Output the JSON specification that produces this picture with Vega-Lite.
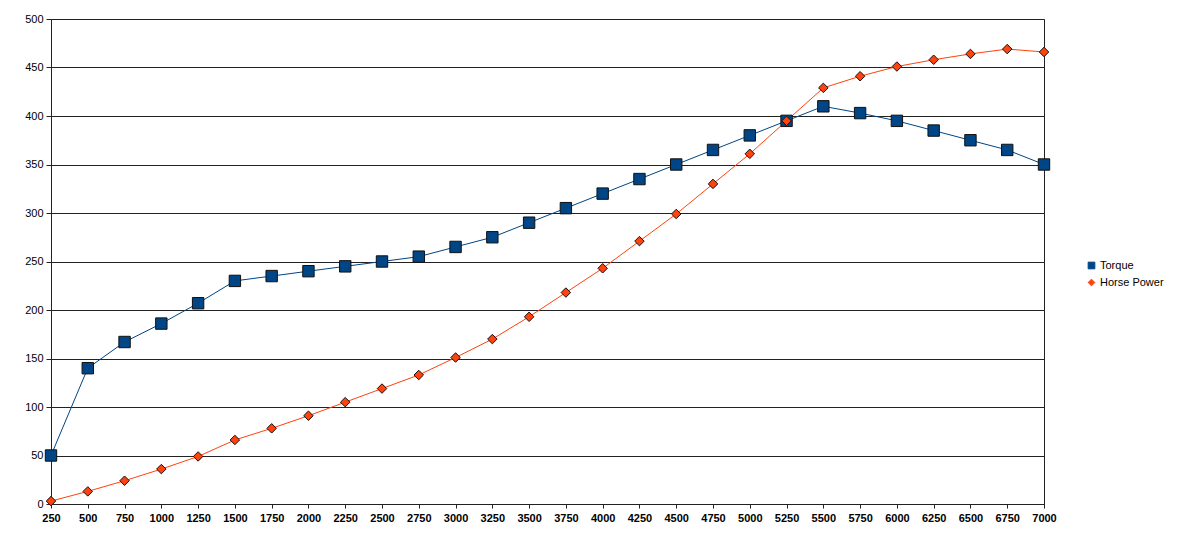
{
  "$schema": "https://vega.github.io/schema/vega-lite/v6.json",
  "autosize": {"type": "none"},
  "padding": {"left": 51, "top": 19, "right": 149, "bottom": 46},
  "width": 993,
  "height": 485,
  "background": "white",
  "config": {
    "view": {"stroke": "#222", "strokeWidth": 1},
    "font": "Liberation Sans"
  },
  "data": {
    "values": [
      {"rpm": 250, "series": "Torque", "value": 50},
      {"rpm": 500, "series": "Torque", "value": 140},
      {"rpm": 750, "series": "Torque", "value": 167},
      {"rpm": 1000, "series": "Torque", "value": 186},
      {"rpm": 1250, "series": "Torque", "value": 207},
      {"rpm": 1500, "series": "Torque", "value": 230},
      {"rpm": 1750, "series": "Torque", "value": 235},
      {"rpm": 2000, "series": "Torque", "value": 240},
      {"rpm": 2250, "series": "Torque", "value": 245},
      {"rpm": 2500, "series": "Torque", "value": 250},
      {"rpm": 2750, "series": "Torque", "value": 255},
      {"rpm": 3000, "series": "Torque", "value": 265},
      {"rpm": 3250, "series": "Torque", "value": 275},
      {"rpm": 3500, "series": "Torque", "value": 290},
      {"rpm": 3750, "series": "Torque", "value": 305},
      {"rpm": 4000, "series": "Torque", "value": 320},
      {"rpm": 4250, "series": "Torque", "value": 335},
      {"rpm": 4500, "series": "Torque", "value": 350},
      {"rpm": 4750, "series": "Torque", "value": 365},
      {"rpm": 5000, "series": "Torque", "value": 380},
      {"rpm": 5250, "series": "Torque", "value": 395},
      {"rpm": 5500, "series": "Torque", "value": 410},
      {"rpm": 5750, "series": "Torque", "value": 403},
      {"rpm": 6000, "series": "Torque", "value": 395},
      {"rpm": 6250, "series": "Torque", "value": 385},
      {"rpm": 6500, "series": "Torque", "value": 375},
      {"rpm": 6750, "series": "Torque", "value": 365},
      {"rpm": 7000, "series": "Torque", "value": 350},
      {"rpm": 250, "series": "Horse Power", "value": 3},
      {"rpm": 500, "series": "Horse Power", "value": 13},
      {"rpm": 750, "series": "Horse Power", "value": 24},
      {"rpm": 1000, "series": "Horse Power", "value": 36},
      {"rpm": 1250, "series": "Horse Power", "value": 49},
      {"rpm": 1500, "series": "Horse Power", "value": 66},
      {"rpm": 1750, "series": "Horse Power", "value": 78},
      {"rpm": 2000, "series": "Horse Power", "value": 91},
      {"rpm": 2250, "series": "Horse Power", "value": 105},
      {"rpm": 2500, "series": "Horse Power", "value": 119},
      {"rpm": 2750, "series": "Horse Power", "value": 133},
      {"rpm": 3000, "series": "Horse Power", "value": 151},
      {"rpm": 3250, "series": "Horse Power", "value": 170},
      {"rpm": 3500, "series": "Horse Power", "value": 193},
      {"rpm": 3750, "series": "Horse Power", "value": 218},
      {"rpm": 4000, "series": "Horse Power", "value": 243},
      {"rpm": 4250, "series": "Horse Power", "value": 271},
      {"rpm": 4500, "series": "Horse Power", "value": 299},
      {"rpm": 4750, "series": "Horse Power", "value": 330},
      {"rpm": 5000, "series": "Horse Power", "value": 361},
      {"rpm": 5250, "series": "Horse Power", "value": 395},
      {"rpm": 5500, "series": "Horse Power", "value": 429},
      {"rpm": 5750, "series": "Horse Power", "value": 441},
      {"rpm": 6000, "series": "Horse Power", "value": 451},
      {"rpm": 6250, "series": "Horse Power", "value": 458},
      {"rpm": 6500, "series": "Horse Power", "value": 464},
      {"rpm": 6750, "series": "Horse Power", "value": 469},
      {"rpm": 7000, "series": "Horse Power", "value": 466}
    ]
  },
  "encoding": {
    "x": {
      "field": "rpm",
      "type": "ordinal",
      "scale": {"type": "point", "padding": 0},
      "axis": {
        "title": null,
        "labelAngle": 0,
        "labelFont": "Liberation Sans",
        "labelFontSize": 11,
        "labelFontWeight": "bold",
        "labelColor": "#000",
        "labelPadding": 4,
        "tickSize": 4,
        "tickColor": "#222",
        "domainColor": "#222",
        "grid": false
      }
    },
    "y": {
      "field": "value",
      "type": "quantitative",
      "scale": {"domain": [0, 500], "nice": false},
      "axis": {
        "title": null,
        "values": [0, 50, 100, 150, 200, 250, 300, 350, 400, 450, 500],
        "labelFont": "Liberation Sans",
        "labelFontSize": 11,
        "labelColor": "#000",
        "labelPadding": 3,
        "tickSize": 5,
        "tickColor": "#222",
        "domainColor": "#222",
        "grid": true,
        "gridColor": "#222",
        "gridOpacity": 1
      }
    },
    "color": {
      "field": "series",
      "type": "nominal",
      "sort": ["Torque", "Horse Power"],
      "scale": {"domain": ["Torque", "Horse Power"], "range": ["#004586", "#ff420e"]},
      "legend": {
        "title": null,
        "orient": "none",
        "legendX": 1035,
        "legendY": 241,
        "labelFont": "Liberation Sans",
        "labelFontSize": 11,
        "labelColor": "#000",
        "labelOffset": 3,
        "symbolStrokeColor": "#222",
        "symbolStrokeWidth": 1,
        "symbolSize": 45,
        "rowPadding": 5
      }
    },
    "shape": {
      "field": "series",
      "type": "nominal",
      "sort": ["Torque", "Horse Power"],
      "scale": {"domain": ["Torque", "Horse Power"], "range": ["square", "diamond"]}
    }
  },
  "layer": [
    {
      "mark": {"type": "line", "strokeWidth": 1},
      "encoding": {"shape": {"value": "circle"}}
    },
    {
      "transform": [{"filter": "datum.series === 'Torque'"}],
      "mark": {"type": "point", "filled": true, "opacity": 1, "stroke": "#111", "strokeWidth": 1, "size": 130}
    },
    {
      "transform": [{"filter": "datum.series === 'Horse Power'"}],
      "mark": {"type": "point", "filled": true, "opacity": 1, "stroke": "#111", "strokeWidth": 1, "size": 90}
    }
  ]
}
